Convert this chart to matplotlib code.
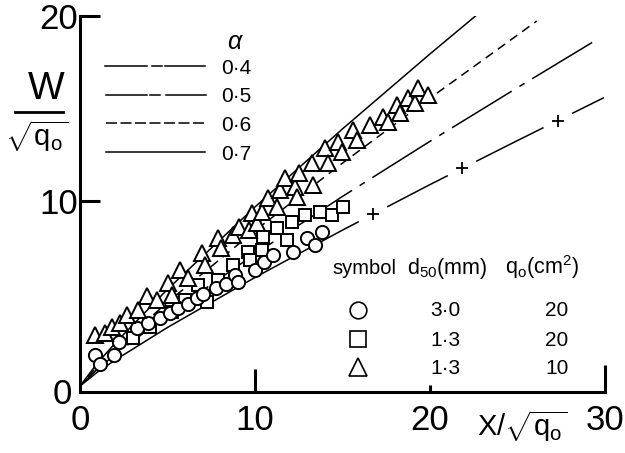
import numpy as np
import matplotlib
matplotlib.use("Agg")
import matplotlib.pyplot as plt

# ---------------- data ----------------
circle_x = [0.86, 1.14, 1.94, 2.23, 3.26, 3.89, 4.57, 5.14, 5.60, 6.17, 6.69, 7.00,
            7.77, 8.34, 8.86, 9.03, 10.00, 10.50, 11.03, 12.17, 12.97, 13.43, 13.83]
circle_y = [1.68, 1.19, 1.68, 2.38, 3.14, 3.41, 3.68, 3.95, 4.22, 4.43, 4.76, 4.95,
            5.30, 5.51, 6.00, 5.62, 6.27, 6.70, 7.08, 7.24, 8.00, 7.62, 8.32]

square_x = [3.03, 4.00, 5.26, 6.00, 6.74, 7.26, 7.89, 8.74, 9.60, 9.71, 10.46, 10.40,
            11.26, 11.83, 12.11, 12.86, 13.71, 14.40, 15.03]
square_y = [2.59, 3.19, 4.00, 4.65, 5.46, 4.54, 5.73, 6.54, 7.24, 6.81, 8.05, 7.35,
            8.54, 7.89, 8.86, 9.24, 9.41, 9.24, 9.68]

triangle_x = [0.86, 1.43, 1.83, 2.29, 2.69, 3.31, 3.83, 4.40, 5.03, 5.26, 5.71, 6.17,
              6.97, 7.14, 7.89, 8.06, 8.74, 9.09, 9.66, 9.83, 10.11, 10.40, 10.74,
              11.26, 11.43, 11.71, 12.29, 12.40, 12.51, 13.26, 13.31, 14.00, 14.17,
              14.74, 14.97, 15.60, 15.83, 16.57, 17.31, 17.60, 18.11, 18.29, 18.74,
              19.14, 19.31, 19.89]
triangle_y = [2.76, 2.86, 3.19, 3.41, 3.84, 4.11, 4.86, 4.65, 5.57, 4.92, 6.27, 5.84,
              7.19, 6.54, 8.00, 7.46, 8.16, 8.59, 8.43, 9.35, 8.81, 9.41, 10.16,
              9.68, 10.59, 11.24, 10.76, 10.22, 11.51, 12.05, 10.86, 12.86, 12.05,
              13.19, 12.65, 13.84, 13.30, 14.11, 14.54, 14.27, 15.19, 14.76, 15.57,
              15.30, 16.11, 15.73]

alpha_labels = ["0\u00b74", "0\u00b75", "0\u00b76", "0\u00b77"]
line04_x = [0, 1, 2, 5, 10, 15, 20, 25, 29.9]
line04_y = [0, 0.76, 1.40, 3.17, 5.87, 8.43, 10.89, 13.27, 15.57]
line05_x = [0, 1, 2, 5, 10, 15, 20, 25, 29.3]
line05_y = [0, 0.92, 1.70, 3.85, 7.14, 10.25, 13.23, 16.13, 18.59]
line06_x = [0, 1, 2, 5, 10, 15, 20, 25, 26.1]
line06_y = [0, 1.08, 2.00, 4.53, 8.40, 12.05, 15.56, 18.97, 19.73]
line07_x = [0, 1, 2, 5, 10, 15, 20, 22.6]
line07_y = [0, 1.25, 2.31, 5.23, 9.68, 13.90, 17.95, 20.00]
cross_x_04 = [16.74, 21.83, 27.30]      # "+" marks on the alpha = 0.4 line

symbol_d50 = ["3\u00b70", "1\u00b73", "1\u00b73"]
symbol_q0 = ["20", "20", "10"]

x_ticks = [0, 10, 20, 30]
y_ticks = [10, 20]

# ---------------- style ----------------
plt.rcParams['font.family'] = ['Liberation Sans', 'DejaVu Sans']
plt.rcParams['mathtext.fontset'] = 'custom'
plt.rcParams['mathtext.rm'] = 'Liberation Sans'
plt.rcParams['mathtext.it'] = 'Liberation Sans:italic'
plt.rcParams['mathtext.sf'] = 'Liberation Sans'
plt.rcParams['mathtext.default'] = 'regular'
plt.rcParams['lines.scale_dashes'] = False

W, H, DPI = 625, 453, 100
PX = 72.0 / DPI  # points per pixel

fig = plt.figure(figsize=(W / DPI, H / DPI), dpi=DPI)
ax = fig.add_axes([80 / W, 1 - 392 / H, (605 - 80) / W, (392 - 16) / H])
ax.set_xlim(0, 30)
ax.set_ylim(-0.32, 20)

for s in ['top', 'right']:
    ax.spines[s].set_visible(False)
for s in ['left', 'bottom']:
    ax.spines[s].set_linewidth(2.2)

ax.set_xticks(x_ticks)
ax.set_xticklabels([str(t) for t in x_ticks])
ax.set_yticks(y_ticks)
ax.set_yticklabels([str(t) for t in y_ticks])
ax.tick_params(axis='x', length=0, pad=9, labelsize=25)
ax.tick_params(axis='y', length=0, pad=1.5, labelsize=25)

# per-pixel data units
sx = 30 / (605 - 80)
sy = 20.32 / (392 - 16)
ybot = -0.32
tick_kw = dict(color='black', lw=2.2, clip_on=False, solid_capstyle='butt', zorder=5)
for xt, hpx in zip([10, 20, 30], [23, 7, 27]):
    ax.plot([xt, xt], [ybot, ybot + hpx * sy], **tick_kw)
for yt in y_ticks:
    ax.plot([0, 20 * sx], [yt, yt], **tick_kw)


def fig_text(px, py, s, **kw):
    fig.text(px / W, 1 - py / H, s, **kw)


fig_text(72, 395, "0", fontsize=25, ha='right', va='center')

# ---------------- theoretical lines ----------------
LW = 1.1


def arclen_px(xs, ys, x_at):
    fx = np.linspace(xs[0], x_at, 600)
    fy = np.interp(fx, xs, ys)
    pts = ax.transData.transform(np.column_stack([fx, fy]))
    return float(np.sum(np.hypot(*np.diff(pts, axis=0).T)))


def dashed(xs, ys, pattern_px, start_x, **kw):
    period = sum(pattern_px)
    s = arclen_px(xs, ys, start_x)
    off = (-s) % period
    ax.plot(xs, ys, color='black', lw=LW,
            linestyle=(off * PX, [p * PX for p in pattern_px]), **kw)


# alpha = 0.7 solid
ax.plot(line07_x, line07_y, color='black', lw=LW, zorder=2)
# alpha = 0.6 dashed
dashed(line06_x, line06_y, [9, 6], 20.4, zorder=2)
# alpha = 0.5 long dash - short dash
dashed(line05_x, line05_y, [70, 9, 6, 9], 21.26, zorder=2)
# alpha = 0.4 long dashes with "+" marks in the gaps
half_gap = 0.85
edges = [line04_x[0]]
for cx in cross_x_04:
    edges += [cx - half_gap, cx + half_gap]
edges.append(line04_x[-1])
for a, b in zip(edges[0::2], edges[1::2]):
    fx = np.linspace(a, b, 50)
    ax.plot(fx, np.interp(fx, line04_x, line04_y), color='black', lw=LW, zorder=2)
ax.plot(cross_x_04, np.interp(cross_x_04, line04_x, line04_y), ls='none',
        marker='+', ms=9, mew=1.3, color='black', zorder=2)

# ---------------- data points ----------------
mk = dict(ls='none', mfc='white', mec='black', mew=1.4)
ax.plot(square_x, square_y, marker='s', ms=9, zorder=3, **mk)
ax.plot(circle_x, circle_y, marker='o', ms=9.5, zorder=4, **mk)
ax.plot(triangle_x, triangle_y, marker='^', ms=11, zorder=5, **mk)

# ---------------- alpha legend (upper left) ----------------
fig_text(235, 42, r'$\mathit{\alpha}$', fontsize=18, ha='center', va='center')
leg_rows_py = [66, 95, 123, 152]
x0, x1 = (106 - 80) * sx, (205 - 80) * sx


def py2y(py):
    return (386 - py) * sy


# 0.4 : long - short - long
yy = py2y(leg_rows_py[0])
for a, b in [(105, 147), (152, 162), (165, 205)]:
    ax.plot([(a - 80) * sx, (b - 80) * sx], [yy, yy], color='black', lw=LW)
# 0.5 : long - short - long
yy = py2y(leg_rows_py[1])
for a, b in [(106, 147), (150, 160), (166, 206)]:
    ax.plot([(a - 80) * sx, (b - 80) * sx], [yy, yy], color='black', lw=LW)
# 0.6 : dashed
yy = py2y(leg_rows_py[2])
ax.plot([x0, x1], [yy, yy], color='black', lw=LW, linestyle=(0, [11 * PX, 3.5 * PX]))
# 0.7 : solid
yy = py2y(leg_rows_py[3])
ax.plot([x0, x1], [yy, yy], color='black', lw=LW)
for lab, py in zip(alpha_labels, leg_rows_py):
    fig_text(221, py + 2, lab, fontsize=15, ha='left', va='center')

# ---------------- axis labels ----------------
# y label: W over sqrt(q_o), built from a numerator, a bar and a denominator
fig_text(46, 89, "W", fontsize=28, ha='center', va='center')
fig.add_artist(plt.Line2D([15 / W, 63 / W], [1 - 112 / H, 1 - 112 / H],
                          transform=fig.transFigure, color='black', lw=2.0))
fig_text(37, 136, r'$\sqrt{q_o}$', fontsize=21, ha='center', va='center')
fig_text(522, 426, r'X/$\sqrt{q_o}$', fontsize=21, ha='center', va='center')

# ---------------- symbol table (lower right) ----------------
fig_text(332, 274, "symbol", fontsize=14.5, ha='left', va='baseline')
fig_text(407, 274, r"d$_{50}$(mm)", fontsize=15.5, ha='left', va='baseline')
fig_text(505, 274, r"q$_o$(cm$^2$)", fontsize=15.5, ha='left', va='baseline')
rows_py = [310, 339, 367]
row_markers = ['o', 's', '^']
for mkr, py, d, q in zip(row_markers, rows_py, symbol_d50, symbol_q0):
    fig.add_artist(plt.Line2D([358 / W], [1 - py / H], transform=fig.transFigure,
                              marker=mkr, ms=12 if mkr != '^' else 13,
                              mfc='white', mec='black', mew=1.2, ls='none'))
    fig_text(445, py + 1, d, fontsize=15, ha='center', va='center')
    fig_text(557, py + 1, q, fontsize=15, ha='center', va='center')

fig.savefig("out.png", dpi=DPI)
